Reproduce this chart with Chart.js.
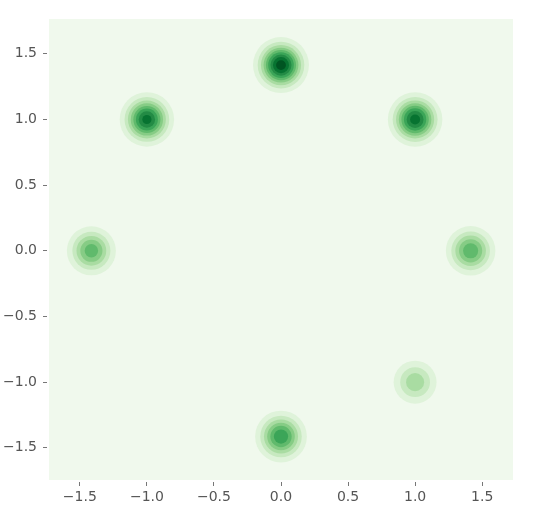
<!DOCTYPE html>
<html>
<head>
<meta charset="utf-8">
<script src="https://cdn.jsdelivr.net/npm/chart.js@4"></script>
<style>
  html, body { margin: 0; padding: 0; background: #fff; }
  #wrap { width: 535px; height: 516px; }
</style>
</head>
<body>
<div id="wrap"><canvas id="kde"></canvas></div>
<script>
// blob centres and peak density (in contour-level units)
const blobX = [0, -1, 1, -1.414, 1.414, 1, 0];
const blobY = [1.414, 1, 1, 0, 0, -1, -1.414];
const blobPeak = [9.65, 8.5, 8.6, 5.7, 5.9, 3.8, 6.95];
const bandwidth = 0.098;
const nLevels = 10;

const xTicks = [-1.5, -1.0, -0.5, 0.0, 0.5, 1.0, 1.5];
const yTicks = [-1.5, -1.0, -0.5, 0.0, 0.5, 1.0, 1.5];

// matplotlib "Greens"
const greens = [
  [247, 252, 245], [229, 245, 224], [199, 233, 192], [161, 217, 155],
  [116, 196, 118], [65, 171, 93], [35, 139, 69], [0, 109, 44], [0, 68, 27]
];
function greensAt(t) {
  const p = t * (greens.length - 1);
  const i = Math.min(Math.floor(p), greens.length - 2);
  const f = p - i;
  const c = greens[i].map((v, j) => Math.round(v + (greens[i + 1][j] - v) * f));
  return `rgb(${c[0]}, ${c[1]}, ${c[2]})`;
}
const bandColor = (k) => greensAt((k + 0.5) / nLevels);

// one dataset per contour level, each blob that reaches it gets a disc
const datasets = [];
for (let k = 1; k < nLevels; k++) {
  const pts = [];
  blobX.forEach((x, i) => {
    if (blobPeak[i] > k) {
      pts.push({ x: x, y: blobY[i], r: bandwidth * Math.sqrt(2 * Math.log(blobPeak[i] / k)) });
    }
  });
  datasets.push({
    label: 'level ' + k,
    data: pts,
    order: nLevels - k,
    backgroundColor: bandColor(k),
    borderWidth: 0,
    pointHoverRadius: 0,
    pointRadius: (ctx) => {
      const p = ctx.raw;
      if (!p) return 0;
      const sx = ctx.chart.scales.x;
      return Math.abs(sx.getPixelForValue(p.x + p.r) - sx.getPixelForValue(p.x));
    }
  });
}

const bgPlugin = {
  id: 'bg',
  beforeDatasetsDraw(chart) {
    const a = chart.chartArea;
    const c = chart.ctx;
    c.save();
    c.fillStyle = bandColor(0);
    c.fillRect(a.left, a.top, a.right - a.left, a.bottom - a.top);
    c.restore();
  }
};

const fmt = (v) => v.toFixed(1).replace('-', '\u2212');

const ctx = document.querySelector('#kde').getContext('2d');
const chart = new Chart(ctx, {
  type: 'scatter',
  data: { datasets: datasets },
  plugins: [bgPlugin],
  options: {
    responsive: true,
    maintainAspectRatio: false,
    animation: false,
    events: [],
    layout: { padding: { top: 19, right: 22, left: 0, bottom: 0 } },
    plugins: { legend: { display: false }, tooltip: { enabled: false } },
    scales: {
      x: {
        type: 'linear',
        min: -1.73,
        max: 1.73,
        afterBuildTicks: (s) => { s.ticks = xTicks.map(v => ({ value: v })); },
        afterFit: (s) => { s.height = 36; },
        border: { display: false },
        grid: {
          drawOnChartArea: false,
          tickLength: 6,
          tickColor: '#777',
          tickBorderDash: [0, 2, 4, 20]
        },
        ticks: {
          color: '#555',
          padding: 3,
          font: { family: 'DejaVu Sans', size: 14 },
          callback: (v) => fmt(v)
        }
      },
      y: {
        type: 'linear',
        min: -1.745,
        max: 1.765,
        afterBuildTicks: (s) => { s.ticks = yTicks.map(v => ({ value: v })); },
        afterFit: (s) => { s.width = 49; },
        border: { display: false },
        grid: {
          drawOnChartArea: false,
          tickLength: 6,
          tickColor: '#777',
          tickBorderDash: [4, 20]
        },
        ticks: {
          color: '#555',
          padding: 6,
          font: { family: 'DejaVu Sans', size: 14 },
          callback: (v) => fmt(v)
        }
      }
    }
  }
});
</script>
</body>
</html>
